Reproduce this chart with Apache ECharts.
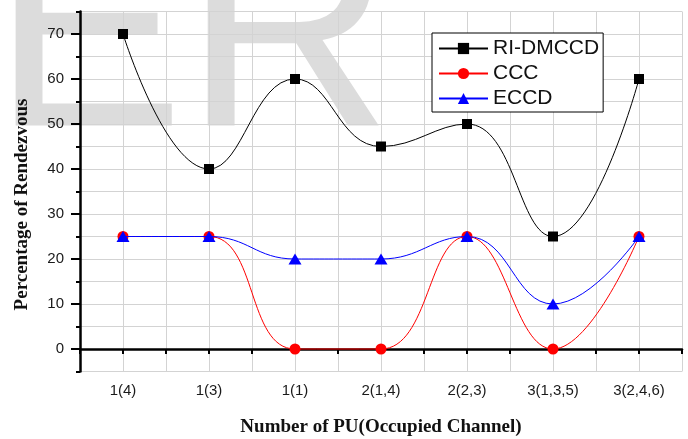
<!DOCTYPE html>
<html>
<head>
<meta charset="utf-8">
<script src="https://cdn.jsdelivr.net/npm/echarts@6/dist/echarts.min.js"></script>
<style>
  html, body { margin: 0; padding: 0; background: #fff; }
  #chart { width: 688px; height: 439px; }
</style>
</head>
<body>
<div id="chart"></div>
<script>
// categories and series values
var categories = ['1(4)', '1(3)', '1(1)', '2(1,4)', '2(2,3)', '3(1,3,5)', '3(2,4,6)'];
var riDmccd = [70, 40, 60, 45, 50, 25, 60];
var ccc = [25, 25, 0, 0, 25, 0, 25];
var eccd = [25, 25, 20, 20, 25, 10, 25];
var yMajorTicks = [0, 10, 20, 30, 40, 50, 60, 70];
// half-category slots, only used for the grid lines and short ticks
var halfSlots = ['', '', '', '', '', '', '', '', '', '', '', '', '', ''];

var myChart = echarts.init(document.getElementById('chart'));
var labelFont = 'Liberation Sans, Arial, sans-serif';
var titleFont = 'Liberation Serif, Times New Roman, serif';

var option = {
    animation: false,
    backgroundColor: '#fff',
    graphic: [
        {
            // faint "ER" watermark behind the plot
            type: 'text',
            z: -10,
            x: -8,
            y: -98,
            style: {
                text: 'ER',
                font: '288px Liberation Sans, Arial, sans-serif',
                fill: '#dcdcdc'
            }
        }
    ],
    grid: {
        left: 80,
        right: 6,
        top: 11.5,
        bottom: 67.5,
        outerBoundsMode: 'none'
    },
    legend: {
        orient: 'vertical',
        left: 432,
        top: 33,
        padding: [5, 4, 3, 6],
        itemGap: 4,
        itemWidth: 49,
        itemHeight: 14,
        backgroundColor: '#fff',
        borderColor: '#000',
        borderWidth: 1,
        textStyle: {
            fontFamily: labelFont,
            fontSize: 21,
            lineHeight: 21,
            color: '#111'
        },
        data: ['RI-DMCCD', 'CCC', 'ECCD']
    },
    xAxis: [
        {
            type: 'category',
            data: categories,
            boundaryGap: true,
            name: 'Number of PU(Occupied Channel)',
            nameLocation: 'middle',
            nameGap: 46,
            nameTextStyle: {
                fontFamily: titleFont,
                fontWeight: 'bold',
                fontSize: 19,
                color: '#111'
            },
            axisLine: { lineStyle: { color: '#000', width: 2.5 } },
            axisTick: { alignWithLabel: true, length: 10, lineStyle: { color: '#000', width: 2 } },
            axisLabel: { margin: 12, fontFamily: labelFont, fontSize: 15, color: '#1a1a1a' },
            splitLine: { show: false }
        },
        {
            type: 'category',
            data: halfSlots,
            boundaryGap: true,
            position: 'bottom',
            axisLine: { show: false },
            axisTick: { show: true, interval: 0, length: 5, lineStyle: { color: '#000', width: 2 } },
            axisLabel: { show: false },
            splitLine: { show: true, interval: 0, lineStyle: { color: '#d3d3d3', width: 1 } }
        }
    ],
    yAxis: [
        {
            type: 'value',
            min: -5,
            max: 75,
            interval: 5,
            name: 'Percentage of Rendezvous',
            nameLocation: 'middle',
            nameGap: 48,
            nameTextStyle: {
                fontFamily: titleFont,
                fontWeight: 'bold',
                fontSize: 19,
                color: '#111',
                padding: [0, 26, 0, 0]
            },
            axisLine: { show: true, lineStyle: { color: '#000', width: 2.5 } },
            axisTick: { show: true, length: 4, lineStyle: { color: '#000', width: 2 } },
            axisLabel: {
                margin: 16,
                fontFamily: labelFont,
                fontSize: 15,
                color: '#1a1a1a',
                formatter: function (v) { return v % 10 === 0 ? String(v) : ''; }
            },
            splitLine: { show: true, lineStyle: { color: '#d3d3d3', width: 1 } }
        },
        {
            type: 'value',
            min: -5,
            max: 75,
            position: 'left',
            axisLine: { show: false },
            axisTick: { show: true, customValues: yMajorTicks, length: 9, lineStyle: { color: '#000', width: 2 } },
            axisLabel: { show: false },
            splitLine: { show: false }
        }
    ],
    series: [
        {
            name: 'RI-DMCCD',
            type: 'line',
            data: riDmccd,
            smooth: 0.45,
            symbol: 'rect',
            symbolSize: 10,
            color: '#000',
            lineStyle: { width: 1, color: '#000' },
            itemStyle: { color: '#000' },
            z: 5
        },
        {
            name: 'CCC',
            type: 'line',
            data: ccc,
            smooth: 0.45,
            symbol: 'circle',
            symbolSize: 11,
            color: '#ff0000',
            lineStyle: { width: 1, color: '#ff0000' },
            itemStyle: { color: '#ff0000' },
            z: 4
        },
        {
            name: 'ECCD',
            type: 'line',
            data: eccd,
            smooth: 0.45,
            symbol: 'triangle',
            symbolSize: [13, 11],
            color: '#0000ff',
            lineStyle: { width: 1, color: '#0000ff' },
            itemStyle: { color: '#0000ff' },
            z: 6
        }
    ]
};

myChart.setOption(option);
window.addEventListener('resize', function () {
    myChart.resize();
});
</script>
</body>
</html>
